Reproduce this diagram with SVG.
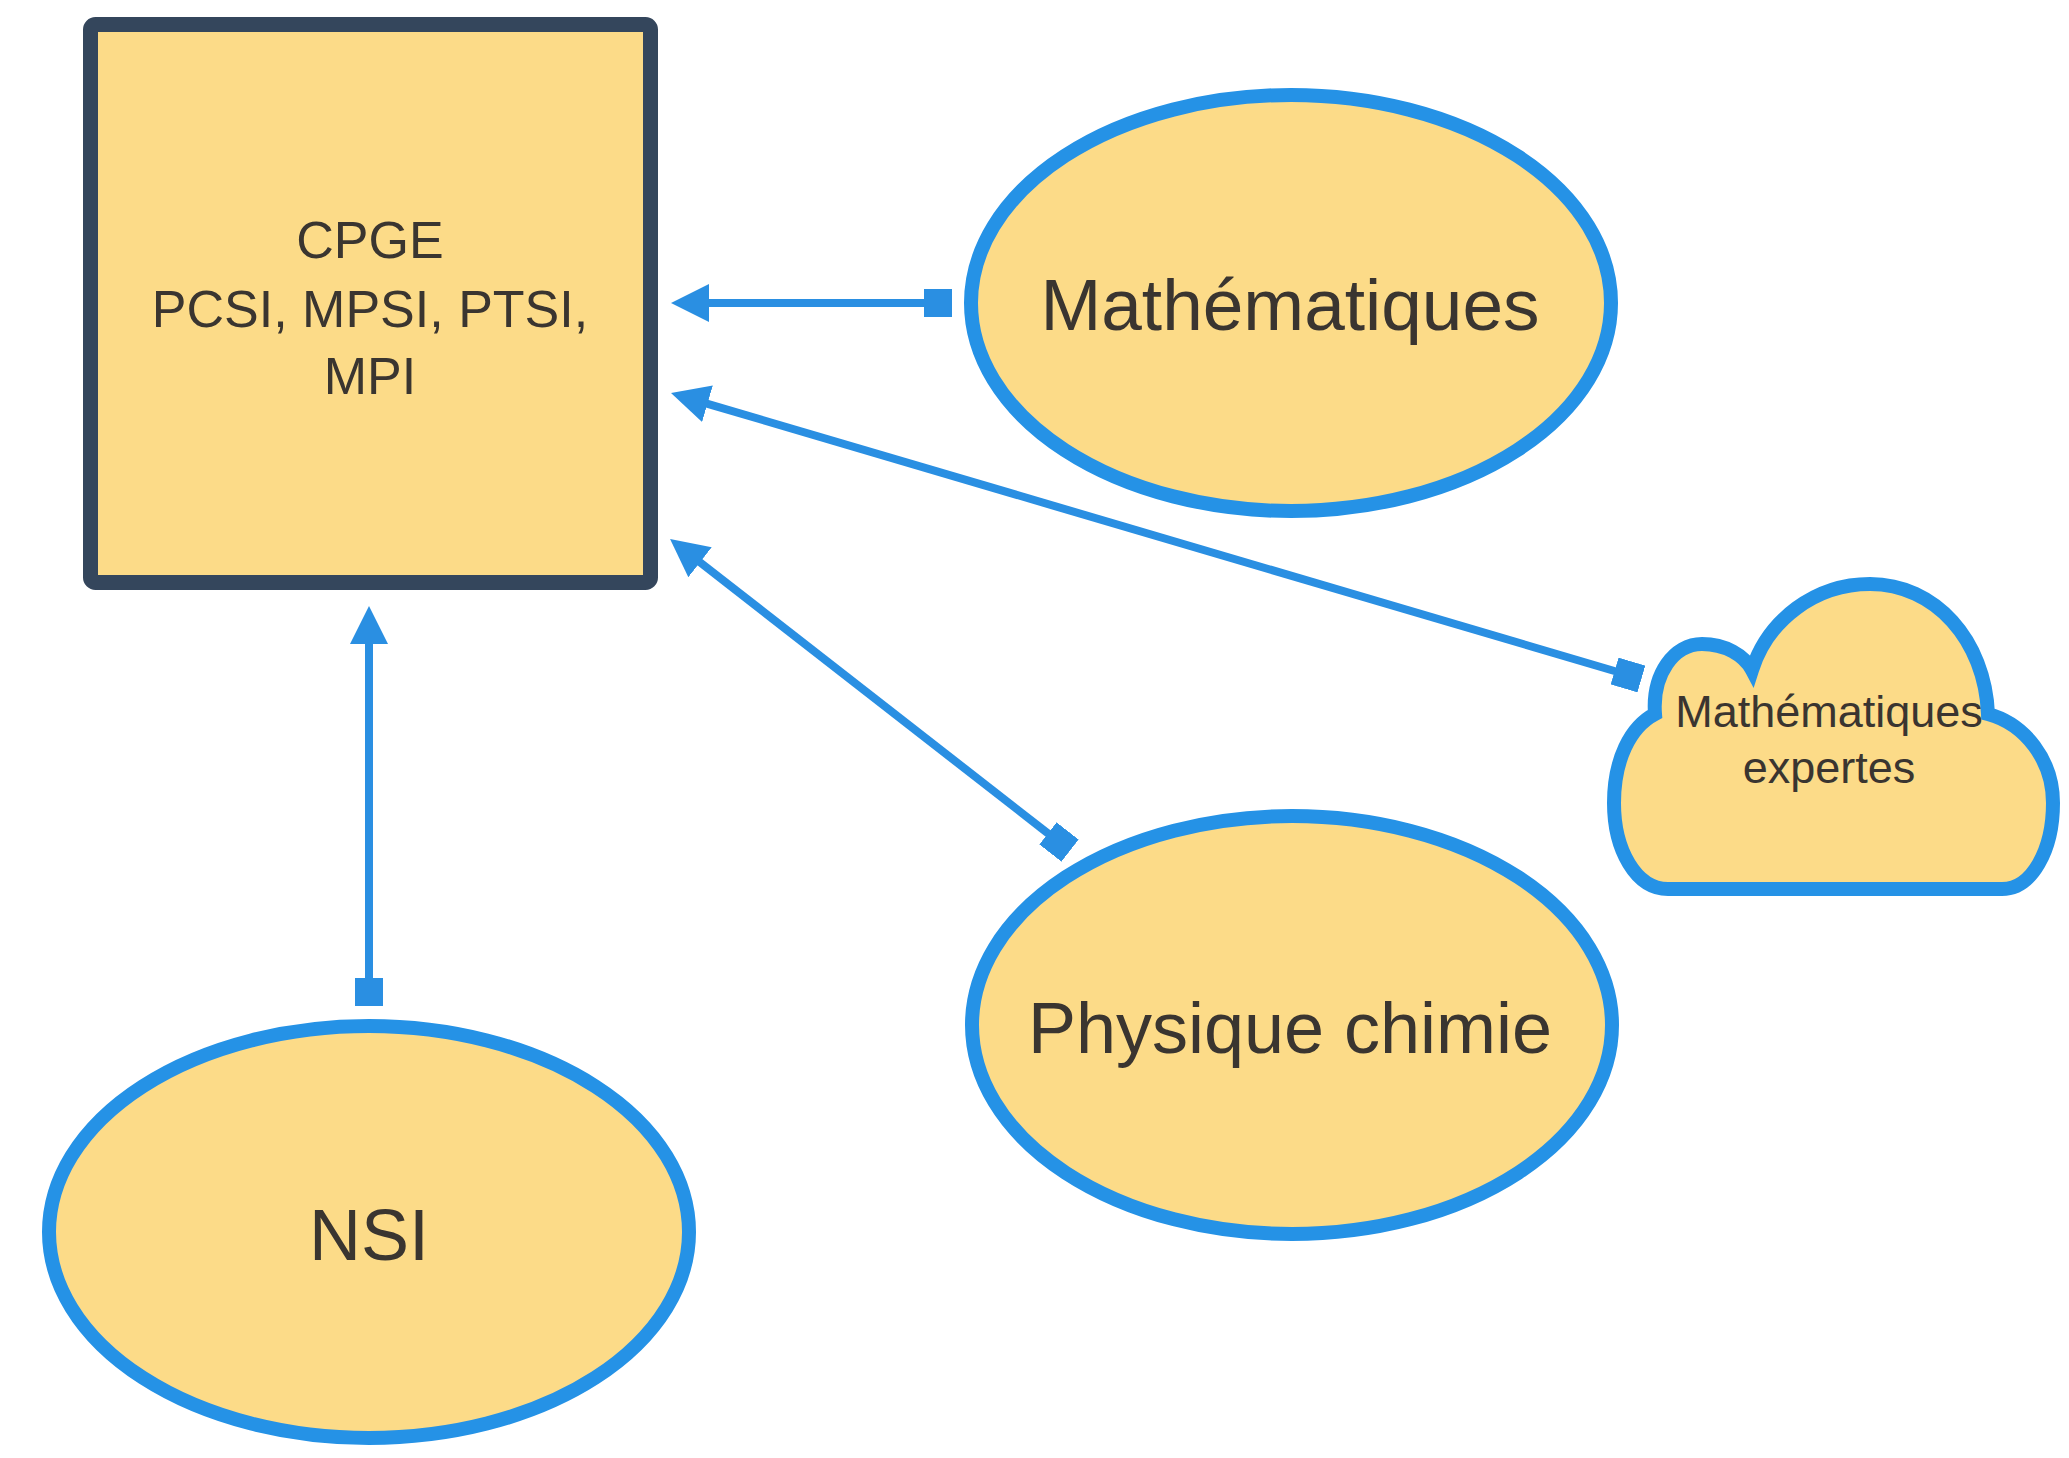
<svg xmlns="http://www.w3.org/2000/svg" width="2069" height="1458" viewBox="0 0 2069 1458">
<style>
.oval{fill:#fcdb88;stroke:#2592e6;stroke-width:14}
.box{fill:#fcdb88;stroke:#34465c;stroke-width:15}
.lbl{font-family:"Liberation Sans",Arial,Helvetica,sans-serif;fill:#3a3530;text-anchor:middle}
.conn{stroke:#2a8fe2;stroke-width:8;fill:none;marker-start:url(#sq);marker-end:url(#arrow)}
</style>
<defs>
<marker id="arrow" viewBox="0 0 38 38" refX="6" refY="19" markerWidth="38" markerHeight="38" markerUnits="userSpaceOnUse" orient="auto">
<path d="M0,0 L38,19 L0,38 Z" fill="#2a8fe2"/>
</marker>
<marker id="sq" viewBox="0 0 28 28" refX="14" refY="14" markerWidth="28" markerHeight="28" markerUnits="userSpaceOnUse" orient="auto">
<rect width="28" height="28" fill="#2a8fe2"/>
</marker>
</defs>
<rect width="2069" height="1458" fill="#ffffff"/>

<g id="cpge">
<rect class="box" x="90.5" y="24.5" width="560" height="558" rx="5"/>
<text class="lbl" font-size="52" x="370" y="258">CPGE</text>
<text class="lbl" font-size="52" x="370" y="327">PCSI, MPSI, PTSI,</text>
<text class="lbl" font-size="52" x="370" y="394">MPI</text>
</g>

<g id="mathematiques">
<ellipse class="oval" cx="1291" cy="303" rx="320" ry="208"/>
<text class="lbl" font-size="73" x="1290" y="330">Mathématiques</text>
</g>

<g id="physique-chimie">
<ellipse class="oval" cx="1292" cy="1025" rx="320" ry="209"/>
<text class="lbl" font-size="72" x="1290" y="1053">Physique chimie</text>
</g>

<g id="nsi">
<ellipse class="oval" cx="369" cy="1232" rx="320" ry="206"/>
<text class="lbl" font-size="72" x="369" y="1260">NSI</text>
</g>

<g id="mathematiques-expertes">
<path class="oval" d="M 1668 889 C 1636 889, 1614 850, 1614 803 C 1614 760, 1630 727, 1655 714 C 1652 674, 1674 644, 1702 644 C 1725 644, 1744 655, 1752 670 C 1768 620, 1815 584, 1870 584 C 1935 584, 1985 640, 1988 714 C 2025 724, 2053 760, 2053 803 C 2053 850, 2032 889, 2002 889 Z"/>
<text class="lbl" font-size="45" x="1829" y="727">Mathématiques</text>
<text class="lbl" font-size="45" x="1829" y="783">expertes</text>
</g>

<g id="connectors">
<path class="conn" d="M938,303 L703,303"/>
<path class="conn" d="M1628,675 L701.7,402.1"/>
<path class="conn" d="M1059,842 L695.3,558.6"/>
<path class="conn" d="M369,992 L369,638"/>
</g>
</svg>
